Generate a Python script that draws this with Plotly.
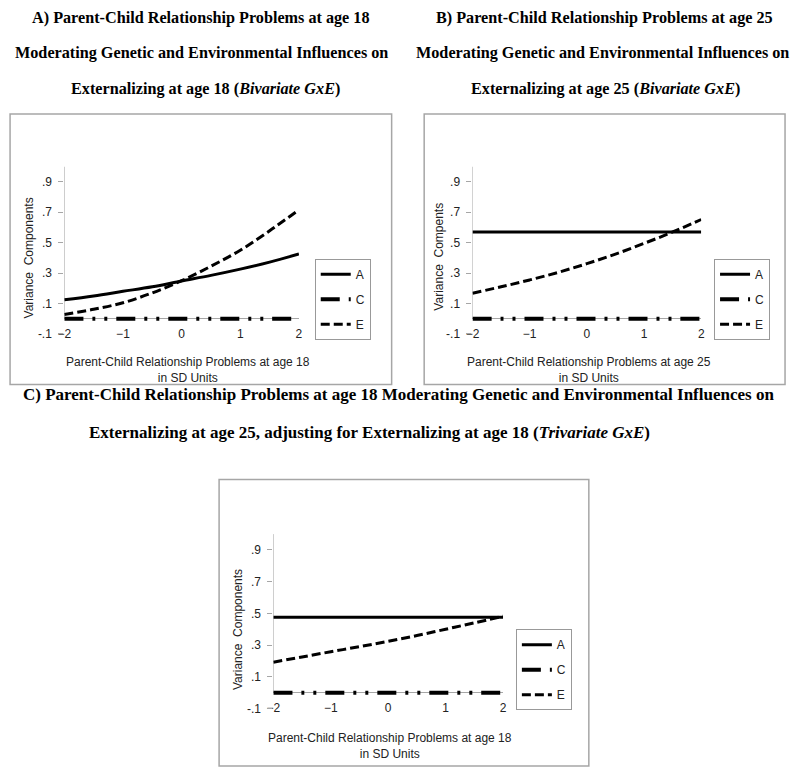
import plotly.graph_objects as go

# moderator in SD units
x_sd = [-2, -1.5, -1, -0.5, 0, 0.5, 1, 1.5, 2]

# panel A: parent-child problems age 18 -> externalizing age 18
a_A = [0.125, 0.15, 0.18, 0.21, 0.248, 0.285, 0.326, 0.372, 0.425]
c_A = [0, 0, 0, 0, 0, 0, 0, 0, 0]
e_A = [0.028, 0.062, 0.105, 0.17, 0.25, 0.345, 0.45, 0.578, 0.716]

# panel B: parent-child problems age 25 -> externalizing age 25
a_B = [0.57, 0.57, 0.57, 0.57, 0.57, 0.57, 0.57, 0.57, 0.57]
c_B = [0, 0, 0, 0, 0, 0, 0, 0, 0]
e_B = [0.168, 0.21, 0.255, 0.305, 0.362, 0.425, 0.495, 0.57, 0.652]

# panel C: trivariate
a_C = [0.475, 0.475, 0.475, 0.475, 0.475, 0.475, 0.475, 0.475, 0.475]
c_C = [0, 0, 0, 0, 0, 0, 0, 0, 0]
e_C = [0.192, 0.225, 0.258, 0.29, 0.324, 0.36, 0.40, 0.44, 0.482]

y_tickvals = [-0.1, 0.1, 0.3, 0.5, 0.7, 0.9]
y_ticktext = ['-.1', '.1', '.3', '.5', '.7', '.9']
x_tickvals = [-2, -1, 0, 1, 2]

# page body has an 8px margin, so the figure is 16px smaller and everything is shifted
OFF = 8
W, H = 800 - 2 * OFF, 777 - 2 * OFF
def px(v): return (v - OFF) / W
def py(v): return 1 - (v - OFF) / H

SANS = 'Liberation Sans'
SERIF = 'Liberation Serif'
GRAY = '#a6a6a6'

fig = go.Figure()

panels = [
    ('', 'legend', a_A, c_A, e_A),
    ('2', 'legend2', a_B, c_B, e_B),
    ('3', 'legend3', a_C, c_C, e_C),
]
styles = [
    ('A', dict(color='black', width=3, dash='solid')),
    ('C', dict(color='black', width=4, dash='19px,9px,3px,9px,3px,9px')),
    ('E', dict(color='black', width=3, dash='9px,4px')),
]
for sfx, leg, a, c, e in panels:
    for (name, ln), ys in zip(styles, [a, c, e]):
        fig.add_trace(go.Scatter(x=x_sd, y=ys, mode='lines', name=name, line=ln,
                                 line_shape='spline', xaxis='x' + sfx, yaxis='y' + sfx,
                                 legend=leg, legendgroup=leg + name))

# plot areas (pixel boxes in the page)
areas = {
    '': (58, 296, 168, 337),
    '2': (472, 704, 168, 337),
    '3': (270, 503, 539, 715),
}
layout = dict(width=W, height=H, margin=dict(l=0, r=0, t=0, b=0),
              plot_bgcolor='white', paper_bgcolor='white', showlegend=True)
for sfx, (x0, x1, y0, y1) in areas.items():
    layout['xaxis' + sfx] = dict(domain=[px(x0), px(x1)], range=[-2, 2], anchor='y' + sfx,
                                 tickvals=x_tickvals, ticks='', showgrid=False,
                                 zeroline=False, showline=False, ticklabelstandoff=-9,
                                 tickfont=dict(family=SANS, size=12, color='#222'))
    layout['yaxis' + sfx] = dict(domain=[py(y1), py(y0)], range=[-0.1, 1.0], anchor='x' + sfx,
                                 tickvals=y_tickvals, ticktext=y_ticktext, ticks='outside',
                                 ticklen=5, tickcolor=GRAY, showgrid=False,
                                 zeroline=True, zerolinecolor=GRAY, zerolinewidth=1,
                                 showline=False, ticklabelstandoff=4,
                                 tickfont=dict(family=SANS, size=12, color='#222'))

legend_pos = {'legend': (312, 261), 'legend2': (717, 261), 'legend3': (516, 635)}
for leg, (lx, ly) in legend_pos.items():
    layout[leg] = dict(x=px(lx), y=py(ly), xanchor='left', yanchor='top',
                       bordercolor='#999', borderwidth=1, bgcolor='white',
                       tracegroupgap=6, traceorder='grouped',
                       font=dict(family=SANS, size=12, color='#222'))
fig.update_layout(**layout)

shapes = []
# panel frames
for x0, x1, y0, y1 in [(3, 390, 115, 388), (423, 789, 115, 388), (215, 590, 484, 773)]:
    shapes.append(dict(type='rect', xref='paper', yref='paper', x0=px(x0), x1=px(x1),
                       y0=py(y1), y1=py(y0), line=dict(color=GRAY, width=1.5)))
# y axis lines from 0 to 1
for sfx in ['', '2', '3']:
    shapes.append(dict(type='line', xref='x' + sfx, yref='y' + sfx, x0=-2, x1=-2, y0=0, y1=1.0,
                       line=dict(color=GRAY, width=1), layer='below'))
fig.update_layout(shapes=shapes)

titles = [
    (197, 18, 16.2, '<b>A) Parent-Child Relationship Problems at age 18</b>'),
    (197, 53, 16.2, '<b>Moderating Genetic and Environmental Influences on</b>'),
    (201, 90, 16.2, '<b>Externalizing at age 18 (<i>Bivariate GxE</i>)</b>'),
    (606, 18, 16.2, '<b>B) Parent-Child Relationship Problems at age 25</b>'),
    (604, 53, 16.2, '<b>Moderating Genetic and Environmental Influences on</b>'),
    (607, 90, 16.2, '<b>Externalizing at age 25 (<i>Bivariate GxE</i>)</b>'),
    (397, 398, 17, '<b>C) Parent-Child Relationship Problems at age 18 Moderating Genetic and Environmental Influences on</b>'),
    (368, 436, 17, '<b>Externalizing at age 25, adjusting for Externalizing at age 18 (<i>Trivariate GxE</i>)</b>'),
]
for tx, ty, fs, t in titles:
    fig.add_annotation(x=px(tx), y=py(ty), xref='paper', yref='paper', text=t, showarrow=False,
                       xanchor='center', yanchor='middle',
                       font=dict(family=SERIF, size=fs, color='black'))

xlabels = [
    (183, 373, 'Parent-Child Relationship Problems at age 18<br>in SD Units'),
    (590, 373, 'Parent-Child Relationship Problems at age 25<br>in SD Units'),
    (388, 753, 'Parent-Child Relationship Problems at age 18<br>in SD Units'),
]
for tx, ty, t in xlabels:
    fig.add_annotation(x=px(tx), y=py(ty), xref='paper', yref='paper', text=t, showarrow=False,
                       xanchor='center', yanchor='middle',
                       font=dict(family=SANS, size=12, color='#222'))

ylabels = [
    (22, 260, 'Variance  Components'),
    (438, 259, 'Variance  Compents'),
    (234, 635, 'Variance  Components'),
]
for tx, ty, t in ylabels:
    fig.add_annotation(x=px(tx), y=py(ty), xref='paper', yref='paper', text=t, showarrow=False,
                       textangle=-90, xanchor='center', yanchor='middle',
                       font=dict(family=SANS, size=12, color='#222'))

fig.write_html("out.html")
